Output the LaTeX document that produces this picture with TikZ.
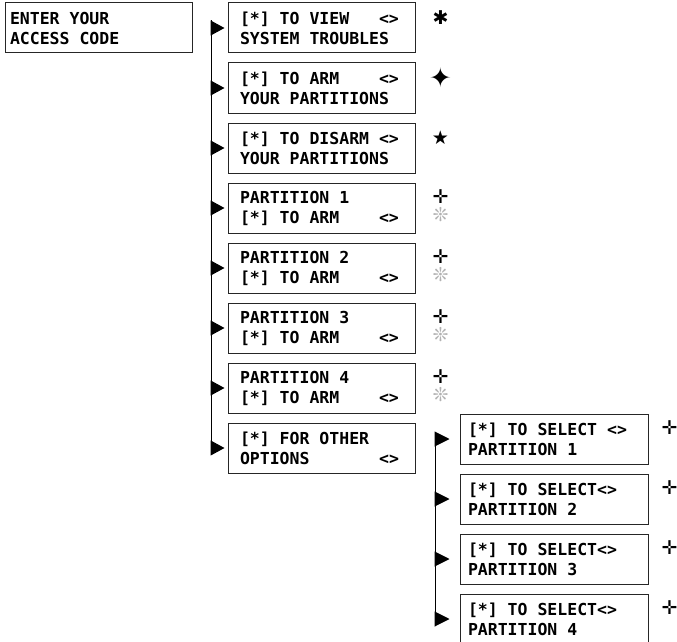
\documentclass[tikz,border=0pt]{standalone}
\usepackage{fontspec}
\usepackage{tikz}
\usetikzlibrary{positioning,arrows.meta}
\newfontfamily\lcdfont{DejaVu Sans Mono}
\newfontfamily\symfont{DejaVu Sans}

\begin{document}
\begin{tikzpicture}[x=1pt, y=-1pt,
    screen/.style={draw=black!85, line width=1pt, minimum height=50pt,
      text width=163pt, inner xsep=12pt, align=left,
      font=\lcdfont\bfseries\fontsize{16.5}{20}\selectfont,
      execute at begin node={\spaceskip=0.602em\relax}},
    subscreen/.style={screen, text width=172pt, inner xsep=8pt},
    branch/.style={-{Triangle[length=14pt,width=15pt]}, line width=1pt, shorten >=3pt},
    keysym/.style={font=\symfont\fontsize{19}{19}\selectfont, inner sep=0pt},
    dimsym/.style={keysym, text=black!30}]

        \useasboundingbox (0,0) rectangle (677,642);

        \node[screen, text width=177pt, inner xsep=5pt] (code) at (98.5,28) {ENTER YOUR\\ACCESS CODE};

        % main menu
        \node[screen] (view) at (321.5,28) {[*] TO VIEW~~~<>\\SYSTEM TROUBLES};
        \node[screen, below=9pt of view] (arm) {[*] TO ARM~~~~<>\\YOUR PARTITIONS};
        \node[screen, below=9pt of arm] (disarm) {[*] TO DISARM <>\\YOUR PARTITIONS};
        \node[screen, below=9pt of disarm] (part1) {PARTITION 1\\{}[*] TO ARM~~~~<>};
        \node[screen, below=9pt of part1] (part2) {PARTITION 2\\{}[*] TO ARM~~~~<>};
        \node[screen, below=9pt of part2] (part3) {PARTITION 3\\{}[*] TO ARM~~~~<>};
        \node[screen, below=9pt of part3] (part4) {PARTITION 4\\{}[*] TO ARM~~~~<>};
        \node[screen, below=9pt of part4] (other) {[*] FOR OTHER\\OPTIONS~~~~~~~<>};

        % select submenu
        \node[subscreen] (sel1) at (554,439) {[*] TO SELECT <>\\PARTITION 1};
        \node[subscreen, below=9pt of sel1] (sel2) {[*] TO SELECT<>\\PARTITION 2};
        \node[subscreen, below=9pt of sel2] (sel3) {[*] TO SELECT<>\\PARTITION 3};
        \node[subscreen, below=9pt of sel3] (sel4) {[*] TO SELECT<>\\PARTITION 4};

        \coordinate (trunk) at (211,20.5);
        \coordinate (trunk end) at (trunk |- other.west);
        \draw[line width=1pt] (trunk) -- (trunk end);
        \foreach \n in {view,arm,disarm,part1,part2,part3,part4,other}
          \draw[branch] (trunk |- \n.west) -- (\n.west);

        \coordinate (subtrunk) at (435,431.5);
        \coordinate (subtrunk end) at (subtrunk |- sel4.west);
        \draw[line width=1pt] (subtrunk) -- (subtrunk end);
        \foreach \n in {sel1,sel2,sel3,sel4}
          \draw[branch, shorten >=10pt, -{Triangle[length=15pt,width=15pt]}] (subtrunk |- \n.west) -- (\n.west);

        % key symbols
        \node[keysym] (k1) at ([xshift=25pt,yshift=10pt]view.east) {✱};
        \node[keysym, font=\symfont\fontsize{27}{27}\selectfont] (k2) at ([xshift=25pt,yshift=10pt]arm.east) {✦};
        \node[keysym] (k3) at ([xshift=25pt,yshift=10pt]disarm.east) {★};
        \foreach \n in {part1,part2,part3,part4} {
          \node[keysym] (\n a) at ([xshift=25pt,yshift=11pt]\n.east) {✛};
          \node[dimsym] (\n b) at ([xshift=25pt,yshift=-7pt]\n.east) {❊};
        }
        \foreach \n in {sel1,sel2,sel3,sel4}
          \node[keysym] (\n a) at ([xshift=21pt,yshift=11pt]\n.east) {✛};

      \end{tikzpicture}
\end{document}
